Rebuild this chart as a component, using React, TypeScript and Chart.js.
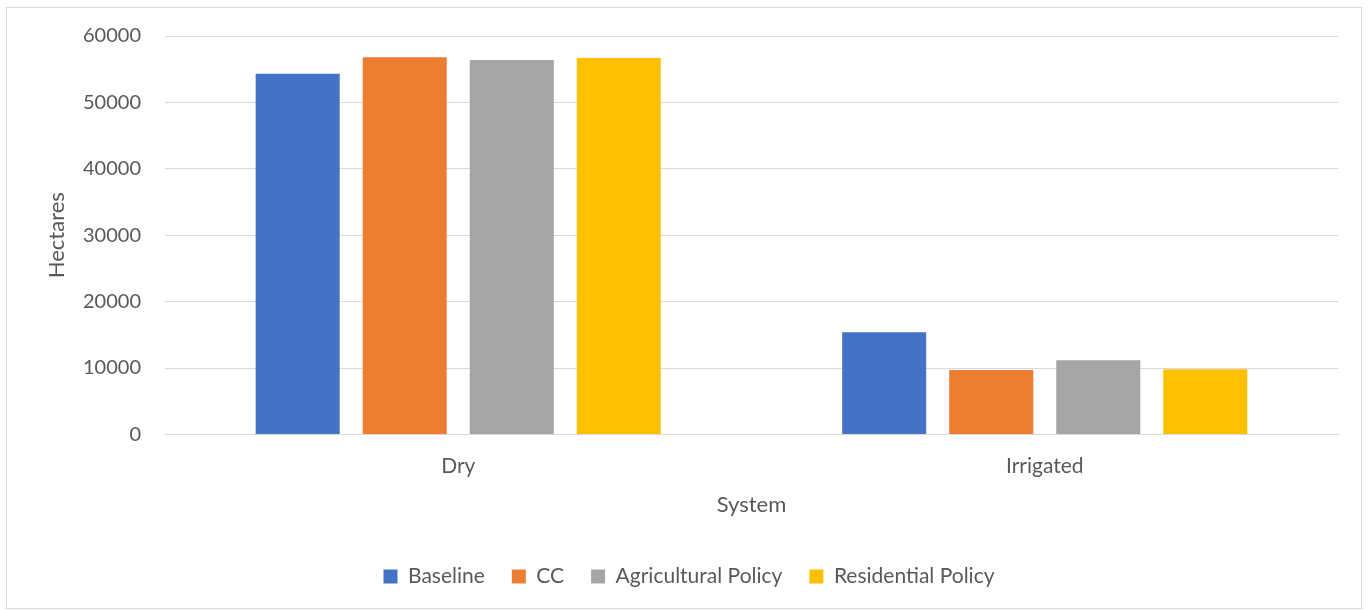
import React, { useEffect, useRef } from "react";
import { Chart, registerables } from "chart.js";

Chart.register(...registerables);

const categories = ["Dry", "Irrigated"];
const seriesNames = ["Baseline", "CC", "Agricultural Policy", "Residential Policy"];
const baseline = [54300, 15400];
const cc = [56800, 9700];
const agriculturalPolicy = [56400, 11150];
const residentialPolicy = [56700, 9800];
const seriesColors = ["#4472C4", "#ED7D31", "#A5A5A5", "#FFC000"];
const yTicks = [0, 10000, 20000, 30000, 40000, 50000, 60000];

const FONT = "Lato, 'Open Sans', sans-serif";
const TEXT = "#595959";
const GRID = "#D9D9D9";

export default function App() {
  const canvasRef = useRef<HTMLCanvasElement | null>(null);

  useEffect(() => {
    document.body.style.margin = "0";
    const canvas = canvasRef.current;
    if (!canvas) return;
    const values = [baseline, cc, agriculturalPolicy, residentialPolicy];
    const chart = new Chart(canvas, {
      type: "bar",
      data: {
        labels: categories,
        datasets: seriesNames.map((name, i) => ({
          label: name,
          data: values[i],
          backgroundColor: seriesColors[i],
          borderWidth: 0,
          categoryPercentage: 0.73,
          barPercentage: 0.785,
        })),
      },
      options: {
        animation: false,
        responsive: false,
        maintainAspectRatio: false,
        layout: { padding: { top: 36, right: 30, bottom: 13, left: 40 } },
        plugins: {
          legend: {
            position: "bottom",
            labels: {
              boxWidth: 14,
              boxHeight: 14,
              padding: 27,
              color: TEXT,
              font: { family: FONT, size: 21 },
            },
          },
          tooltip: { enabled: false },
        },
        scales: {
          x: {
            grid: { display: false },
            border: { display: true, color: GRID },
            ticks: { color: TEXT, font: { family: FONT, size: 21 }, padding: 11 },
            title: {
              display: true,
              text: "System",
              color: TEXT,
              font: { family: FONT, size: 22 },
              padding: { top: 2, bottom: 21 },
            },
          },
          y: {
            min: 0,
            max: 60000,
            afterBuildTicks: (scale: any) => {
              scale.ticks = yTicks.map((v) => ({ value: v }));
            },
            afterFit: (scale: any) => {
              scale.width = 125;
            },
            grid: { color: GRID, drawTicks: false },
            border: { display: false },
            ticks: {
              color: TEXT,
              font: { family: FONT, size: 20 },
              padding: 24,
              callback: (v: any) => String(v),
            },
            title: {
              display: true,
              text: "Hectares",
              color: TEXT,
              font: { family: FONT, size: 22 },
              padding: { top: 4, bottom: 0 },
            },
          },
        },
      },
    });
    return () => chart.destroy();
  }, []);

  return (
    <div style={{ position: "relative", width: 1368, height: 610, background: "#fff" }}>
      <div
        style={{
          position: "absolute",
          left: 6,
          top: 7,
          width: 1356,
          height: 602,
          border: "1px solid #D9D9D9",
          boxSizing: "border-box",
        }}
      />
      <canvas
        ref={canvasRef}
        width={1368}
        height={610}
        style={{ position: "absolute", left: 0, top: 0 }}
      />
    </div>
  );
}
